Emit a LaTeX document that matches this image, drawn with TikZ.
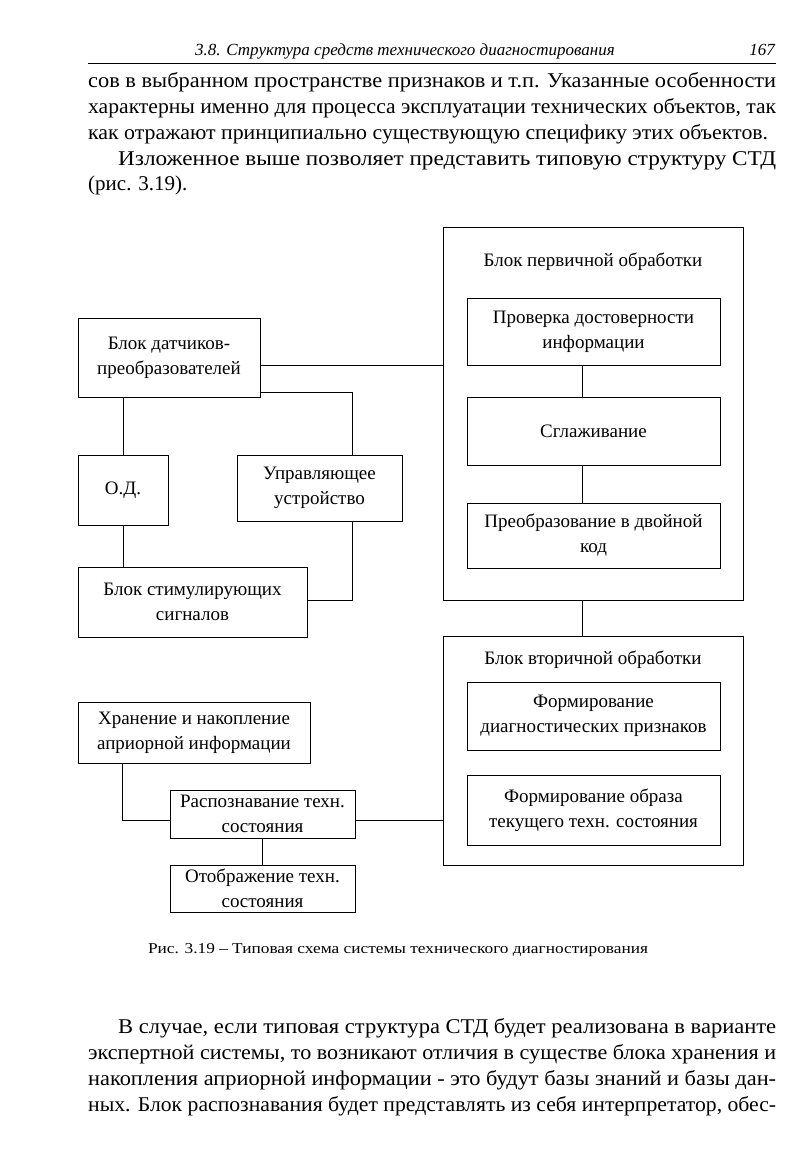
\documentclass[tikz,border=0pt]{standalone}
\usepackage{fontspec}
\setmainfont{Liberation Serif}
\usepackage{graphicx}
\newcommand\fitline[2]{\setbox0\hbox{#2}\pgfmathsetmacro\fr{#1/\the\wd0*1pt}\scalebox{\fr}[1]{\box0}}
\tikzset{
  box/.style={draw, line width=1pt, inner sep=0pt, align=center, font=\fontsize{19}{25}\selectfont},
  frame/.style={draw, line width=1pt, inner sep=0pt},
  link/.style={line width=1pt},
  body/.style={anchor=base west, inner sep=0pt, font=\fontsize{21}{25}\selectfont},
  ttl/.style={inner sep=0pt, font=\fontsize{19}{25}\selectfont}
}
\begin{document}
\begin{tikzpicture}[x=1pt,y=-1pt]
\useasboundingbox[fill=white] (0,0) rectangle (791,1176);
% header
\node[inner sep=0pt, anchor=base, font=\fontsize{17}{20}\selectfont\itshape] (hdr) at (405,55) {3.8. Структура средств технического диагностирования};
\node[inner sep=0pt, anchor=base east, font=\fontsize{17}{20}\selectfont\itshape] (pg) at (775,55) {167};
\coordinate (rl) at (88,63);
\coordinate (rr) at (776,63);
\draw[line width=0.8pt] (rl) -- (rr);
% top paragraph
\node[body] (t1) at (88,87) {\fitline{688}{сов в выбранном пространстве признаков и т.п. Указанные особенности}};
\node[body] (t2) at (88,113) {\fitline{688}{характерны именно для процесса эксплуатации технических объектов, так}};
\node[body] (t3) at (88,139) {\fitline{680}{как отражают принципиально существующую специфику этих объектов.}};
\node[body] (t4) at (118,165) {\fitline{658}{Изложенное выше позволяет представить типовую структуру СТД}};
\node[body] (t5) at (88,190) {(рис. 3.19).};
% primary block
\node[frame, minimum width=300pt, minimum height=373pt] (P) at (593,413.5) {};
\node[ttl] (Pt) at (593,262) {Блок первичной обработки};
\node[box, minimum width=253pt, minimum height=67pt] (p1) at (593.5,331.5) {Проверка достоверности\\информации};
\node[box, minimum width=253pt, minimum height=68pt] (p2) at (593.5,431) {Сглаживание};
\node[box, minimum width=253pt, minimum height=65pt] (p3) at (593.5,535.5) {Преобразование в двойной\\код};
% secondary block
\node[frame, minimum width=300pt, minimum height=229pt] (S) at (593,750.5) {};
\node[ttl] (St) at (593,660) {Блок вторичной обработки};
\node[box, minimum width=253pt, minimum height=68pt] (s1) at (593.5,716) {Формирование\\диагностических признаков};
\node[box, minimum width=253pt, minimum height=70pt] (s2) at (593.5,810) {Формирование образа\\текущего техн. состояния};
% left blocks
\node[box, minimum width=182pt, minimum height=79pt] (D) at (169,357.5) {Блок датчиков-\\преобразователей};
\node[box, minimum width=90pt, minimum height=70pt] (OD) at (123,490) {О.Д.};
\node[box, minimum width=165pt, minimum height=66pt] (U) at (319.5,488) {Управляющее\\устройство};
\node[box, minimum width=229pt, minimum height=70pt] (BS) at (192.5,602) {Блок стимулирующих\\сигналов};
\node[box, minimum width=232pt, minimum height=61pt] (H) at (194,732.5) {Хранение и накопление\\априорной информации};
\node[box, minimum width=185pt, minimum height=48pt] (R) at (262.5,814) {Распознавание техн.\\состояния};
\node[box, minimum width=185pt, minimum height=47pt] (O) at (262.5,888.5) {Отображение техн.\\состояния};
% connectors
\draw[link] (D.east |- 0,365) -- (P.west |- 0,365);
\draw[link] (D.east |- 0,392) -| (U.north -| 352,0);
\draw[link] (OD.north) -- (OD.north |- D.south);
\draw[link] (OD.south) -- (OD.south |- BS.north);
\draw[link] (U.south -| 352,0) |- (BS.east |- 0,600);
\draw[link] (p1.south -| 582,0) -- (p2.north -| 582,0);
\draw[link] (p2.south -| 582,0) -- (p3.north -| 582,0);
\draw[link] (P.south -| 582,0) -- (S.north -| 582,0);
\draw[link] (H.south -| 122,0) |- (R.west |- 0,820);
\draw[link] (R.east |- 0,820) -- (S.west |- 0,820);
\draw[link] (R.south) -- (O.north);
% caption
\node[inner sep=0pt, anchor=base, font=\fontsize{15}{18}\selectfont] (cap) at (398,953) {\fitline{500}{Рис. 3.19 – Типовая схема системы технического диагностирования}};
% bottom paragraph
\node[body] (b1) at (118,1033) {\fitline{658}{В случае, если типовая структура СТД будет реализована в варианте}};
\node[body] (b2) at (88,1059) {\fitline{688}{экспертной системы, то возникают отличия в существе блока хранения и}};
\node[body] (b3) at (88,1085) {\fitline{688}{накопления априорной информации - это будут базы знаний и базы дан-}};
\node[body] (b4) at (88,1111) {\fitline{688}{ных. Блок распознавания будет представлять из себя интерпретатор, обес-}};
\end{tikzpicture}
\end{document}
